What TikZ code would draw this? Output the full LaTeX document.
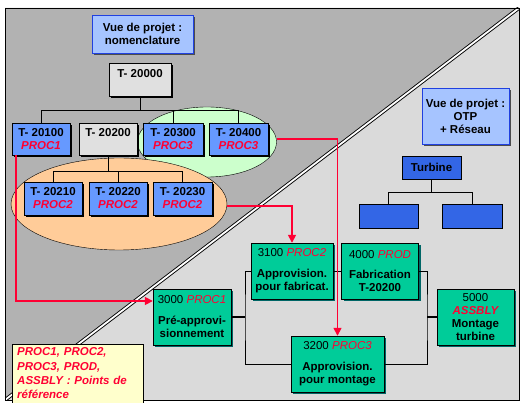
\documentclass[tikz,border=0pt]{standalone}
\usepackage{fontspec}
\setmainfont{Liberation Sans}
\usepackage{xcolor}
\usepackage{tikz}
\usetikzlibrary{arrows.meta,shapes.geometric,shadows}

\definecolor{bgdark}{HTML}{B2B2B2}
\definecolor{bglight}{HTML}{DADADA}
\definecolor{hdrblue}{HTML}{A6C4FF}
\definecolor{hdrframe}{HTML}{2040E0}
\definecolor{itemblue}{HTML}{6699FF}
\definecolor{otpblue}{HTML}{3366E6}
\definecolor{boxgray}{HTML}{E0E0E0}
\definecolor{netgreen}{HTML}{00CC99}
\definecolor{netshadow}{HTML}{006666}
\definecolor{refred}{HTML}{FF0033}
\definecolor{ellgreen}{HTML}{CCFFCC}
\definecolor{ellorange}{HTML}{FFCC99}
\definecolor{notebg}{HTML}{FFFFCC}

\newcommand{\refcode}[1]{\textcolor{refred}{\itshape #1}}

\begin{document}
\begin{tikzpicture}[x=1pt, y=-1pt,
  font=\bfseries\fontsize{11.5}{13}\selectfont,
  header/.style={draw=hdrframe, fill=hdrblue, align=center, inner sep=1pt,
    drop shadow={shadow xshift=2pt, shadow yshift=-2pt, fill=gray!60!black, opacity=1}},
  part/.style={draw, fill=itemblue, align=center, inner sep=1pt,
    minimum width=58pt, minimum height=32pt,
    drop shadow={shadow xshift=2pt, shadow yshift=-2pt, fill=black, opacity=1}},
  greypart/.style={part, fill=boxgray},
  otp/.style={draw, fill=otpblue, inner sep=1pt, minimum height=24pt},
  activity/.style={draw, fill=netgreen, align=center, inner sep=1pt, minimum height=56pt,
    drop shadow={shadow xshift=2pt, shadow yshift=-2pt, fill=netshadow, opacity=1}},
  link/.style={line width=0.8pt},
  refarrow/.style={draw=refred, line width=1.6pt, -{Triangle[width=8pt,length=8pt]}}]
\useasboundingbox (0,0) rectangle (523,403);
\fill[white] (0,0) rectangle (523,403);

% Background halves and diagonal divider
\fill[bgdark] (5,8) -- (519,8) -- (5,400) -- cycle;
\fill[bglight] (519,8) -- (519,400) -- (5,400) -- cycle;
\begin{scope}
  \clip (5,8) rectangle (519,400);
  \draw[line width=3.6pt] (519,8) -- (5,400);
  \draw[white, line width=1.8pt] (519,8) -- (5,400);
\end{scope}
\draw (5,8) rectangle (519,400);

% Nomenclature view
\node[header, minimum width=101pt, minimum height=38pt] (hdrnom) at (142.5,34) {Vue de projet :\\nomenclature};
\node[ellipse, draw, fill=ellgreen, minimum width=139pt, minimum height=70pt, inner sep=0pt] (green) at (207,142) {};
\node[ellipse, draw, fill=ellorange, minimum width=216pt, minimum height=92pt, inner sep=0pt] (orange) at (119,204) {};

\node[greypart, minimum width=62pt, minimum height=33pt] (t20000) at (140,79.5) {T- 20000\\\mbox{}};
\draw (t20000.south) -- ++(0,14) coordinate (bar1);
\draw (bar1) -| (41,123);
\draw (bar1) -| (173,123);
\draw (bar1) -| (238.5,123);

\node[part] (t20100) at (41,139) {T- 20100\\\refcode{PROC1}};
\node[greypart] (t20200) at (108,139) {T- 20200\\\mbox{}};
\node[part, minimum width=60pt] (t20300) at (173,139) {T- 20300\\\refcode{PROC3}};
\node[part, minimum width=59pt] (t20400) at (238.5,139) {T- 20400\\\refcode{PROC3}};

\draw (t20200.south) -- ++(0,16) coordinate (bar2);
\draw (bar2) -| (53,182);
\draw (bar2) -| (118,182);
\draw (bar2) -| (182.5,182);

\node[part, minimum height=33pt] (t20210) at (53,198.5) {T- 20210\\\refcode{PROC2}};
\node[part, minimum height=33pt] (t20220) at (118,198.5) {T- 20220\\\refcode{PROC2}};
\node[part, minimum width=59pt, minimum height=33pt] (t20230) at (182.5,198.5) {T- 20230\\\refcode{PROC2}};

% OTP + network view
\node[header, minimum width=87pt, minimum height=56pt] (hdrotp) at (465.5,116) {Vue de projet :\\OTP\\+ Réseau};
\node[otp, minimum width=59pt, minimum height=23pt] (turbine) at (431.5,167.5) {Turbine};
\node[otp, minimum width=59pt] (otpl) at (388.5,216) {};
\node[otp, minimum width=60pt] (otpr) at (472,216) {};
\draw[line width=1.5pt] (turbine.south) -- ++(0,13) coordinate (bar3);
\draw (bar3) -| (otpl.north);
\draw (bar3) -| (otpr.north);

\node[activity, minimum width=78pt] (n3000) at (192,317) {{\mdseries 3000 \refcode{PROC1}}\\[8pt]Pré-approvi-\\sionnement};
\node[activity, minimum width=82pt] (n3100) at (292,271) {{\mdseries 3100 \refcode{PROC2}}\\[8pt]Approvision.\\pour fabricat.};
\node[activity, minimum width=77pt] (n4000) at (380,271) {{\mdseries 4000 \refcode{PROD}}\\[7pt]Fabrication\\T-20200};
\node[activity, minimum width=93pt] (n3200) at (337.5,364) {{\mdseries 3200 \refcode{PROC3}}\\[8pt]Approvision.\\pour montage};
\node[activity, minimum width=77pt] (n5000) at (475.5,317) {{\mdseries 5000}\\\refcode{ASSBLY}\\Montage\\turbine};

\coordinate (jleft) at (245,317);
\coordinate (jright) at (427,317);
\draw[line width=1.6pt] (n3000.east) -- (jleft);
\draw[link] (n3100.west) -| (jleft) |- (n3200.west);
\draw[link] (n3100.east) -- (n4000.west);
\draw[link] (n4000.east) -| (jright) |- (n3200.east);
\draw[line width=1.6pt] (jright) -- (n5000.west);

% Reference points
\draw[refarrow] ([xshift=4pt]t20100.south west) |- ([yshift=16pt]n3000.west);
\draw[refarrow] ([yshift=-2pt]orange.east) -| (n3100.north);
\draw[refarrow] ([yshift=3pt]green.east) -| (n3200.north);

% Legend
\draw[fill=notebg] (12,344) rectangle (143,410);
\node[anchor=north west, align=left, inner xsep=5pt, inner ysep=3.5pt, text width=125pt,
  font=\bfseries\itshape\fontsize{11.5}{14.3}\selectfont, text=refred] (legend) at (12,344)
  {PROC1, PROC2,\\PROC3, PROD,\\ASSBLY : Points de\\référence};
\end{tikzpicture}
\end{document}
